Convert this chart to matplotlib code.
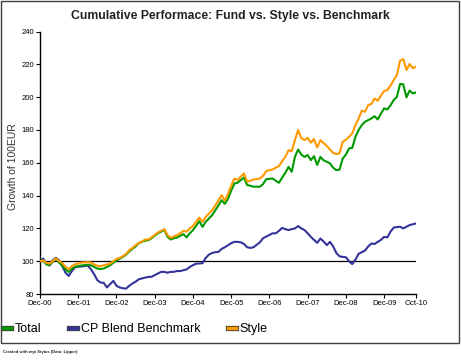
import numpy as np
import matplotlib
matplotlib.use('Agg')
import matplotlib.pyplot as plt
import matplotlib.patches as mpatches
import matplotlib.patheffects as pe

plt.rcParams['font.family'] = ['Liberation Sans', 'DejaVu Sans']

# Monthly values, Dec-00 .. Oct-10 (119 months), growth of 100 EUR
total = [100, 100.5, 98, 97.8, 99.5, 101.6, 99, 97.4, 95, 93.5, 95.5, 96.6,
         97, 97.4, 97.6, 97.8, 97.5, 96.5, 95.5, 95.3, 95.5, 96.5, 97.5, 99,
         100.5, 101.5, 102.6, 104, 106, 107.5, 109, 111, 111.8, 112.5, 112.8, 114,
         115.5, 117, 118, 119, 115, 113.2, 114, 114.4, 115.5, 116.5, 114.5, 117,
         118.9, 121.5, 124.4, 120.9, 124, 126, 128, 131, 134, 137.2, 135, 138,
         143, 147.4, 147.8, 149.4, 151, 146.4, 146, 145.4, 145.4, 145.4, 147, 150,
         150.2, 150.4, 149, 147.8, 151, 153.9, 157.5, 154.5, 163.6, 168.1, 165, 163.6,
         164.7, 161.6, 164, 158.6, 163.6, 161.5, 160.6, 159.6, 157, 155.5, 155.8, 162.6,
         165, 168.7, 169.1, 175.8, 180, 183, 185, 186, 187, 188.4, 186.4, 190,
         193.1, 192.5, 195, 198.2, 200.2, 208, 207.8, 199.9, 204, 202.3, 202.9]

benchmark = [100, 101.6, 98.5, 97.4, 100.5, 102, 100.5, 97, 93, 91, 94, 96.3,
             96.6, 96.8, 97, 97.4, 95, 92, 88.4, 87, 86.8, 84, 86, 88,
             85, 84, 83.5, 83.3, 85, 86.4, 87.5, 89, 89.5, 90, 90.4, 90.5,
             91.5, 92.5, 93.5, 93.5, 93, 93.5, 93.5, 94, 94, 94.5, 95, 96.5,
             97.6, 98.5, 98.6, 98.8, 102, 104, 105, 105.5, 105.7, 107.5, 108.5, 109.7,
             111, 111.8, 111.8, 111.5, 110.5, 108.5, 108.1, 108.5, 110, 111.5, 114, 115,
             116, 117, 117, 118.5, 120.3, 119.5, 119, 119.5, 120, 121.4, 120, 119,
             117, 114.8, 113, 111.2, 113.8, 112, 109.8, 111.8, 109, 105, 103, 102.6,
             102.4, 100, 98.2, 101, 104.5, 105.5, 106.5, 109, 110.8, 110.5, 111.8, 113,
             114.8, 114.5, 118, 120.5, 120.8, 121, 120, 121, 122, 122.5, 123]

style = [100, 100.5, 99, 98.5, 100, 101.6, 100, 98.8, 96.5, 95.1, 97, 98.2,
         98.5, 99.2, 99.3, 99.4, 99.2, 98, 97.2, 97, 97.5, 98, 98.6, 100,
         101.4, 102, 103, 104.5, 106.7, 108, 109.8, 111, 112, 113.2, 113.2, 114.5,
         115.9, 117.5, 118.5, 119.5, 116, 114.2, 115, 115.9, 117, 118.5, 118, 120,
         121.4, 124, 126.6, 124, 127, 129, 131, 134, 137, 140.3, 137, 141,
         146, 150.4, 149.4, 151.5, 153.5, 148.4, 149, 149.8, 150, 150.4, 152, 154.9,
         155.5, 155.9, 157, 158, 161, 163.6, 167.7, 167, 173.8, 179.9, 175, 173.8,
         175.2, 172.2, 174.4, 169.3, 173.8, 172, 170.2, 168.1, 166, 165.3, 165.7, 172.8,
         174, 175.8, 177.9, 183, 187, 191.7, 191.1, 195.2, 195.8, 199.2, 197.8, 201,
         203.7, 204.3, 207, 210.4, 213.5, 222.2, 223.2, 216.5, 220.2, 217.6, 218.6]

tick_labels = ['Dec-00', 'Dec-01', 'Dec-02', 'Dec-03', 'Dec-04', 'Dec-05',
               'Dec-06', 'Dec-07', 'Dec-08', 'Dec-09', 'Oct-10']
tick_months = [0, 12, 24, 36, 48, 60, 72, 84, 96, 108, 118]

months = np.arange(len(total))

fig = plt.figure(figsize=(4.61, 3.6), dpi=100)
ax = fig.add_axes([0.0868, 0.1833, 0.8156, 0.7292])

ax.axhline(100, color='black', lw=0.9, zorder=1)
ax.plot(months, total, color='#009900', lw=1.5, label='Total', zorder=3)
ax.plot(months, benchmark, color='#333399', lw=1.5, label='CP Blend Benchmark', zorder=2)
ax.plot(months, style, color='#FF9900', lw=1.5, label='Style', zorder=4)

ax.set_xlim(0, 118)
ax.set_ylim(80, 240)
ax.set_yticks(range(80, 241, 20))
ax.set_xticks(tick_months)
ax.set_xticklabels(tick_labels)
ax.tick_params(labelsize=5.5, length=3, width=0.8, direction='out', pad=1.5)
for s in ['top', 'right']:
    ax.spines[s].set_visible(False)
for s in ['left', 'bottom']:
    ax.spines[s].set_linewidth(1.0)

fig.text(0.5, 1 - 16 / 360, 'Cumulative Performace: Fund vs. Style vs. Benchmark',
         ha='center', va='center', fontsize=8.8, fontweight='bold', color='#222222')
fig.text(13 / 461, 1 - 167 / 360, 'Growth of 100EUR', rotation=90,
         ha='center', va='center', fontsize=7.5, color='#333333')

# legend with outlined short bars
handles, labels = ax.get_legend_handles_labels()
leg = fig.legend(handles, labels, loc='center left', bbox_to_anchor=(3 / 461, 1 - 329 / 360),
                 ncol=3, frameon=False, fontsize=9, handlelength=0.65,
                 handletextpad=0.3, columnspacing=2.2, borderpad=0, borderaxespad=0)
for h in leg.legend_handles:
    h.set_linewidth(2.5)
    h.set_path_effects([pe.Stroke(linewidth=3.8, foreground='#404040'), pe.Normal()])

fig.patches.append(mpatches.Rectangle((1 / 461, 1 - 343 / 360), 458 / 461, 342 / 360,
                                      transform=fig.transFigure, fill=False,
                                      edgecolor='#404040', lw=1.0))
fig.text(3 / 461, 1 - 352 / 360, 'Created with mpi Stylus (Data: Lipper)',
         ha='left', va='center', fontsize=3, fontweight='bold', color='#222222')

fig.savefig('out.png', dpi=100)
